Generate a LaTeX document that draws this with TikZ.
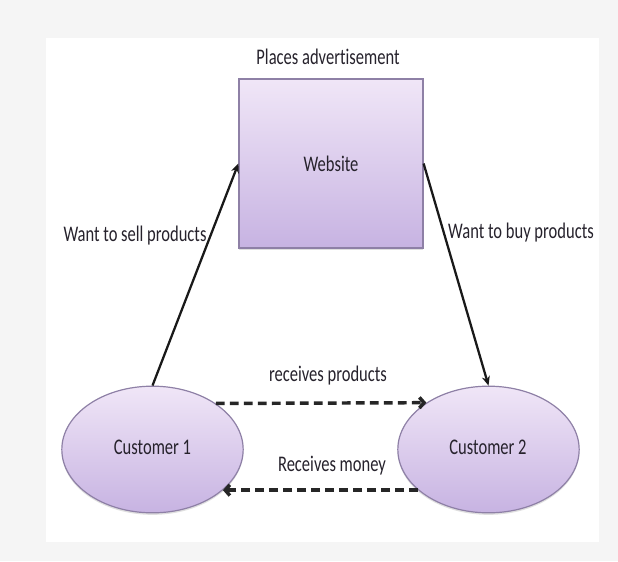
\documentclass[tikz,border=0pt]{standalone}
\usepackage{fontspec}
\setmainfont{Carlito}[Ligatures=NoCommon]
\usetikzlibrary{arrows.meta,shadows,shapes.geometric}

\definecolor{lilactop}{HTML}{F0E6F7}
\definecolor{lilacbot}{HTML}{C7B3E2}
\definecolor{lilacline}{HTML}{8E80A6}
\definecolor{inktext}{HTML}{26222C}
\definecolor{pagegray}{HTML}{F5F5F5}

\newcommand{\tall}[1]{\scalebox{1}[1.35]{#1}}

\tikzset{every picture/.style={line width=0.75pt}}
\tikzset{
  lilac/.style={draw=lilacline, line width=0.9pt, top color=lilactop, bottom color=lilacbot,
    drop shadow={opacity=0.25, shadow xshift=0pt, shadow yshift=-1.5pt}},
  custnode/.style={lilac, ellipse, minimum width=136pt, minimum height=95pt, inner sep=0pt},
  lbl/.style={inner sep=0.75pt, text=inktext, font=\fontsize{12.4}{14}\selectfont},
  flow/.style={draw=black!90, line width=1.7pt, -{Stealth[length=7pt,width=6pt]}},
  swap/.style={draw=black!85, line width=2.6pt, dash pattern={on 6.5pt off 4pt}, -{Straight Barb[length=3.5pt,width=8pt]}}
}

\begin{document}
\begin{tikzpicture}[x=0.75pt,y=0.75pt,yscale=-1,xscale=1]
	% page background
	\fill [pagegray] (0,0) rectangle (618,561);
	\fill [white] (46,38) rectangle (599,542);
	\useasboundingbox (0,0) rectangle (618,561);
	
	%Shape: Rectangle
	\node (web) at (331,163.5) [lilac, minimum width=138pt, minimum height=126.75pt, inner sep=0pt] {};
	%Shape: Ellipse
	\node (cust1) at (152.5,449.5) [custnode] {};
	%Shape: Ellipse
	\node (cust2) at (488.5,449.5) [custnode] {};
	
	% Text Node
	\node (webtxt) at (331,164) [lbl] {\tall{Website}};
	% Text Node
	\node (c1txt) at (152.5,447) [lbl] {\tall{Customer 1}};
	% Text Node
	\node (c2txt) at (488,447) [lbl] {\tall{Customer 2}};
	% Text Node
	\node (advert) at (328,57) [lbl] {\tall{Places advertisement}};
	% Text Node
	\node (sell) at (135,236) [lbl] {\tall{Want to sell products}};
	% Text Node
	\node (buy) at (521,233) [lbl] {\tall{Want to buy products}};
	% Text Node
	\node (prod) at (328,376) [lbl] {\tall{receives products}};
	% Text Node
	\node (money) at (332,466) [lbl] {\tall{Receives money}};
	
	%Straight Lines
	\draw [flow] (cust1.north) -- (web.west);
	%Straight Lines
	\draw [flow] (web.east) -- (cust2.north);
	%Straight Lines
	\draw [swap] (cust1.36.5) -- (cust2.143.5);
	%Straight Lines
	\draw [swap] (cust2.-150) -- (cust1.-30);
	
\end{tikzpicture}
\end{document}
